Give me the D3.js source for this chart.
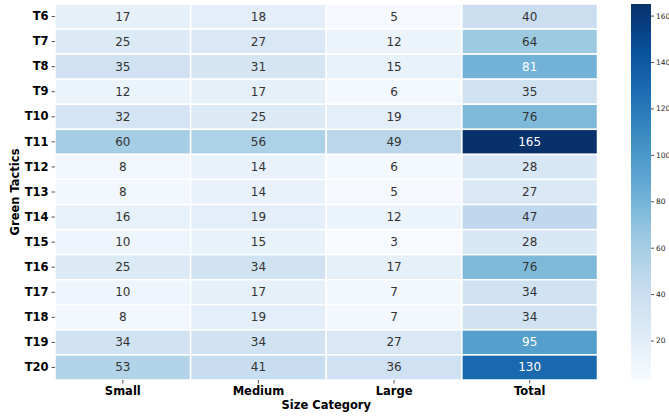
<!DOCTYPE html>
<html><head><meta charset="utf-8">
<script src="https://cdn.jsdelivr.net/npm/d3@7"></script>
<style>body{margin:0;background:#fff}svg{display:block;font-family:"DejaVu Sans",sans-serif}</style>
</head><body><svg id="c" width="669" height="416"></svg>
<script>
const rows = ["T6","T7","T8","T9","T10","T11","T12","T13","T14","T15","T16","T17","T18","T19","T20"];
const cols = ["Small","Medium","Large","Total"];
const small  = [17,25,35,12,32,60,8,8,16,10,25,10,8,34,53];
const medium = [18,27,31,17,25,56,14,14,19,15,34,17,19,34,41];
const large  = [5,12,15,6,19,49,6,5,12,3,17,7,7,27,36];
const total  = [40,64,81,35,76,165,28,27,47,28,76,34,34,95,130];
const cbTicks = [20,40,60,80,100,120,140,160];
const blues = ["#f7fbff","#deebf7","#c6dbef","#9ecae1","#6baed6","#4292c6","#2171b5","#08519c","#08306b"];

const series = [small, medium, large, total];
const all = series.flat();
const vmin = d3.min(all), vmax = d3.max(all);
const color = d3.scaleLinear()
  .domain(blues.map((_, i) => vmin + (vmax - vmin) * i / (blues.length - 1)))
  .range(blues).interpolate(d3.interpolateRgb).clamp(true);

const svg = d3.select("#c");
const L = 55, R = 597.5, T = 4, B = 380;
const x = d3.scaleBand().domain(cols).range([L, R]);
const y = d3.scaleBand().domain(rows).range([T, B]);

const cells = [];
rows.forEach((r, i) => cols.forEach((c, j) => cells.push({r, c, v: series[j][i]})));

svg.append("g").selectAll("rect").data(cells).join("rect")
  .attr("x", d => x(d.c)).attr("y", d => y(d.r))
  .attr("width", x.bandwidth()).attr("height", y.bandwidth())
  .attr("fill", d => color(d.v)).attr("stroke", "#fff").attr("stroke-width", 1.5);

function lum(c) {
  const rgb = d3.rgb(c);
  const f = v => { v /= 255; return v <= 0.03928 ? v / 12.92 : Math.pow((v + 0.055) / 1.055, 2.4); };
  return 0.2126 * f(rgb.r) + 0.7152 * f(rgb.g) + 0.0722 * f(rgb.b);
}
svg.append("g").selectAll("text").data(cells).join("text")
  .attr("x", d => x(d.c) + x.bandwidth() / 2).attr("y", d => y(d.r) + y.bandwidth() / 2)
  .attr("text-anchor", "middle").attr("dominant-baseline", "central")
  .attr("font-size", "12px")
  .attr("fill", d => lum(color(d.v)) > 0.408 ? "#333333" : "#ffffff")
  .text(d => d.v);

// axes
const ax = svg.append("g").attr("transform", `translate(0,${B})`)
  .call(d3.axisBottom(x).tickSize(3.5).tickPadding(3));
const ay = svg.append("g").attr("transform", `translate(${L},0)`)
  .call(d3.axisLeft(y).tickSize(3.5).tickPadding(3));
[ax, ay].forEach(a => {
  a.select(".domain").remove();
  a.selectAll(".tick line").attr("stroke", "#262626").attr("stroke-width", 0.8);
  a.selectAll(".tick text").attr("font-size", "11.5px").attr("font-weight", "bold")
    .attr("fill", "#000").attr("font-family", "DejaVu Sans");
});

svg.append("text").attr("x", (L + R) / 2).attr("y", 409)
  .attr("text-anchor", "middle").attr("font-size", "11.5px").attr("font-weight", "bold")
  .text("Size Category");
svg.append("text").attr("transform", `translate(18.5,${(T + B) / 2}) rotate(-90)`)
  .attr("text-anchor", "middle").attr("font-size", "11.5px").attr("font-weight", "bold")
  .text("Green Tactics");

// colorbar
const cbX = 631, cbW = 20;
const cy = d3.scaleLinear().domain([vmin, vmax]).range([B, T]);
const defs = svg.append("defs");
const grad = defs.append("linearGradient").attr("id", "g").attr("x1", 0).attr("y1", 1).attr("x2", 0).attr("y2", 0);
blues.forEach((c, i) => grad.append("stop").attr("offset", i / (blues.length - 1)).attr("stop-color", c));
svg.append("rect").attr("x", cbX).attr("y", T).attr("width", cbW).attr("height", B - T).attr("fill", "url(#g)");
const cax = svg.append("g").attr("transform", `translate(${cbX + cbW},0)`)
  .call(d3.axisRight(cy).tickValues(cbTicks).tickSize(3).tickPadding(2));
cax.select(".domain").remove();
cax.selectAll(".tick line").attr("stroke", "#262626").attr("stroke-width", 0.8);
cax.selectAll(".tick text").attr("font-size", "7.5px").attr("fill", "#262626").attr("font-family", "DejaVu Sans");
</script></body></html>
